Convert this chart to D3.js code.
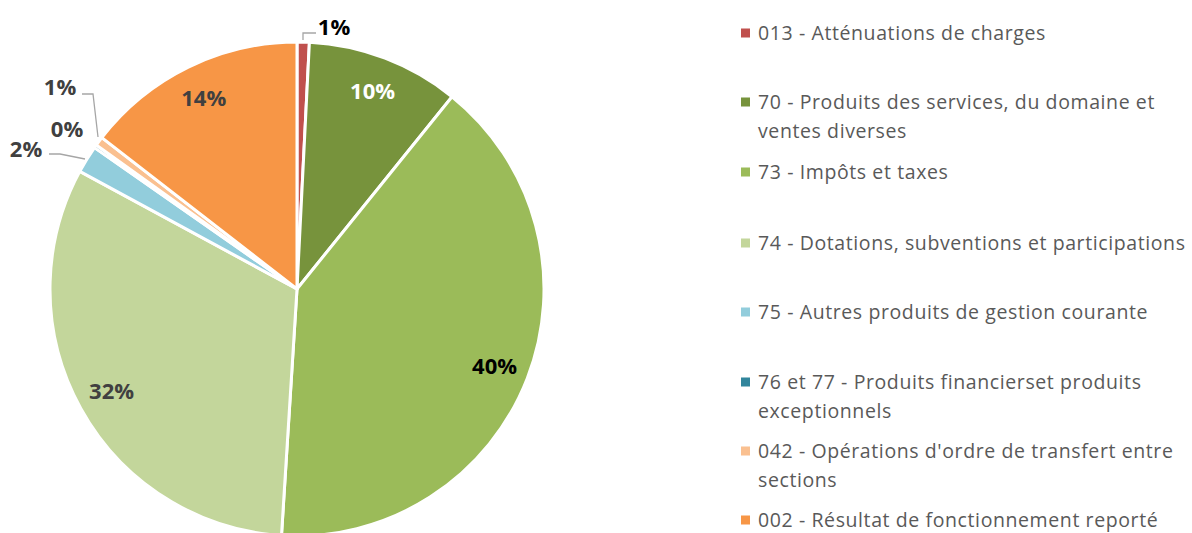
<!DOCTYPE html>
<meta charset="utf-8">
<style>
	body { margin: 0; background: #fff; }
	text { font-family: "Open Sans", sans-serif; }
</style>
<body></body>
<script src="https://d3js.org/d3.v7.min.js"></script>
<script>

	var categories = [
		"013 - Atténuations de charges",
		"70 - Produits des services, du domaine et ventes diverses",
		"73 - Impôts et taxes",
		"74 - Dotations, subventions et participations",
		"75 - Autres produits de gestion courante",
		"76 et 77 - Produits financierset produits exceptionnels",
		"042 - Opérations d'ordre de transfert entre sections",
		"002 - Résultat de fonctionnement reporté"
	];
	var values = [0.8, 10.0, 40.2, 31.9, 1.8, 0.2, 0.6, 14.5];
	var labels = ["1%", "10%", "40%", "32%", "2%", "0%", "1%", "14%"];
	var colors = ["#C0504D", "#77933C", "#9BBB59", "#C3D69B", "#92CDDC", "#31859C", "#FAC090", "#F79646"];
	// legend lines (wrapped the way the picture has them)
	var legendLines = [
		["013 - Atténuations de charges"],
		["70 - Produits des services, du domaine et", "ventes diverses"],
		["73 - Impôts et taxes"],
		["74 - Dotations, subventions et participations"],
		["75 - Autres produits de gestion courante"],
		["76 et 77 - Produits financierset produits", "exceptionnels"],
		["042 - Opérations d'ordre de transfert entre", "sections"],
		["002 - Résultat de fonctionnement reporté"]
	];

	var width = 1192, height = 533;
	var cx = 297, cy = 289, radius = 247;

	var svg = d3.select("body").append("svg")
		.attr("width", width)
		.attr("height", height);

	var pie = d3.pie().sort(null).value(function(d) { return d; });
	var arcs = pie(values);

	var arc = d3.arc().innerRadius(0).outerRadius(radius);
	var labelArc = d3.arc().innerRadius(212).outerRadius(212);

	var g = svg.append("g")
		.attr("transform", "translate(" + cx + "," + cy + ")");

	g.selectAll("path")
		.data(arcs)
		.enter()
		.append("path")
		.attr("d", arc)
		.attr("fill", function(d, i) { return colors[i]; })
		.attr("stroke", "#fff")
		.attr("stroke-width", 3)
		.attr("stroke-linejoin", "round");

	// inside labels for the big slices
	var insideColor = {1: "#fff", 2: "#000", 3: "#404040", 7: "#404040"};
	g.selectAll("text.inside")
		.data(arcs.filter(function(d) { return d.value >= 5; }))
		.enter()
		.append("text")
		.attr("class", "inside")
		.attr("x", function(d) { return labelArc.centroid(d)[0]; })
		.attr("y", function(d) { return labelArc.centroid(d)[1]; })
		.attr("dy", "0.35em")
		.attr("text-anchor", "middle")
		.attr("font-size", "22px")
		.attr("font-weight", "bold")
		.attr("fill", function(d) { return insideColor[d.index]; })
		.text(function(d) { return labels[d.index]; });

	// outside labels for the small ones: label spot + leader bend, relative to the centre
	var outside = {
		0: {lx: 37, ly: -262, color: "#000", pts: [[6, -249], [6, -256], [19, -256]]},
		4: {lx: -271, ly: -140, color: "#404040", pts: [[-212, -130], [-237, -135], [-248, -135]]},
		5: {lx: -230, ly: -160, color: "#404040", pts: null},
		6: {lx: -237, ly: -202, color: "#404040", pts: [[-199, -152], [-204, -195], [-215, -195]]}
	};

	Object.keys(outside).forEach(function(k) {
		var o = outside[k];
		var d = arcs[k];
		if (o.pts) {
			g.append("path")
				.attr("d", d3.line()(o.pts))
				.attr("fill", "none")
				.attr("stroke", "#a6a6a6")
				.attr("stroke-width", 1.3);
		}
		g.append("text")
			.attr("x", o.lx)
			.attr("y", o.ly)
			.attr("dy", "0.35em")
			.attr("text-anchor", "middle")
			.attr("font-size", "22px")
			.attr("font-weight", "bold")
			.attr("fill", o.color)
			.text(labels[d.index]);
	});

	// legend
	var legendY = [33, 102, 172, 243, 312, 382, 451, 520];
	var legend = svg.append("g").attr("transform", "translate(741,0)");

	var items = legend.selectAll("g")
		.data(categories)
		.enter()
		.append("g")
		.attr("transform", function(d, i) { return "translate(0," + legendY[i] + ")"; });

	items.append("rect")
		.attr("x", 0)
		.attr("y", -4.5)
		.attr("width", 9)
		.attr("height", 9)
		.attr("fill", function(d, i) { return colors[i]; });

	items.each(function(d, i) {
		var t = d3.select(this);
		legendLines[i].forEach(function(line, j) {
			t.append("text")
				.attr("x", 17)
				.attr("y", j * 29)
				.attr("dy", "0.35em")
				.attr("font-size", "19.5px")
				.attr("letter-spacing", "0.6px")
				.attr("fill", "#595959")
				.text(line);
		});
	});

</script>
